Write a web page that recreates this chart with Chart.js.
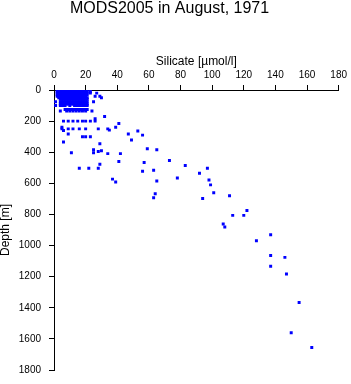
<!DOCTYPE html>
<html>
<head>
<meta charset="utf-8">
<script src="https://cdn.jsdelivr.net/npm/chart.js@4"></script>
<style>
  body { margin: 0; background: #fff; }
  #wrap { width: 351px; height: 384px; }
</style>
</head>
<body>
<div id="wrap"><canvas id="chart" width="351" height="384"></canvas></div>
<script>
// upper layer: many casts crowd together, so one row of silicate values per standard depth
const upperDepth = [0, 10, 20, 30, 40, 50, 60, 75, 90, 100, 125, 135];
const upperSilicate = [
  [2, 3, 4, 5, 6, 7, 8, 9, 10, 11, 12, 13, 14, 15, 16, 17, 18, 19, 20, 21],
  [2, 3, 4, 5, 6, 7, 8, 9, 10, 11, 12, 13, 14, 15, 16, 17, 18, 19, 20, 21, 23],
  [2, 3, 4, 5, 6, 7, 8, 9, 10, 11, 12, 13, 14, 15, 16, 17, 18, 19, 20, 21, 23, 27],
  [2, 3, 4, 5, 6, 7, 8, 9, 10, 11, 12, 13, 14, 15, 16, 17, 18, 19, 20, 21],
  [2, 3, 4, 5, 6, 7, 8, 9, 10, 11, 12, 13, 14, 15, 16, 17, 18, 19, 20, 26, 29],
  [3, 4, 5, 6, 7, 8, 9, 10, 11, 12, 13, 14, 15, 16, 17, 18, 19, 20, 21, 30],
  [4, 5, 6, 7, 8, 9, 10, 11, 12, 13, 14, 15, 16, 17, 18, 19, 20, 21],
  [1, 4, 5, 6, 7, 8, 9, 10, 11, 12, 13, 14, 15, 16, 17, 18, 19, 20, 21, 25],
  [4, 5, 6, 7, 8, 9, 10, 11, 12, 13, 14, 15, 16, 17, 18, 19, 20, 21],
  [1, 4, 5, 6, 7, 10, 13, 14, 15, 16, 17, 18, 19, 20, 21],
  [7, 8, 9, 10, 11, 12, 13, 14, 15, 16, 17, 18, 19, 20, 21],
  [4, 8, 10, 12, 14, 16, 18, 20, 24]
];

// deeper samples, point by point: silicate [umol/l] and depth [m]
const silicate = [
  32, 26,
  6, 9, 12, 15, 18, 20, 23, 26,
  41, 39, 5, 35, 6,
  5, 9, 12, 16, 20, 28, 34,
  9, 47, 53, 56,
  18, 20, 23,
  6, 29, 49,
  11, 25, 25, 28, 30, 34, 42, 59, 65,
  41, 57, 29, 73, 83,
  16, 22, 28,
  56, 63, 92,
  37, 39,
  65, 78, 97, 98, 99,
  64, 63,
  101, 94, 111,
  122, 120, 113,
  107, 108,
  137, 128,
  137, 146, 137, 147,
  155, 150, 163
];
const depth = [
  170, 185,
  200, 200, 200, 200, 200, 200, 200, 200,
  215, 240, 240, 258, 260,
  250, 250, 250, 250, 250, 250, 250,
  283, 283, 264, 290,
  300, 300, 300,
  334, 346, 321,
  403, 384, 403, 396, 390, 409, 409, 378, 384,
  460, 466, 478, 453, 485,
  503, 503, 503,
  522, 516, 535,
  573, 592,
  585, 566, 503, 579, 610,
  667, 692,
  661, 698, 680,
  774, 806, 806,
  862, 881,
  931, 969,
  1064, 1076, 1133, 1183,
  1366, 1561, 1655
];
const xTicks = [0, 20, 40, 60, 80, 100, 120, 140, 160, 180];
const yTicks = [0, 200, 400, 600, 800, 1000, 1200, 1400, 1600, 1800];

const points = [];
upperDepth.forEach((d, r) => {
  upperSilicate[r].forEach(v => points.push({ x: v, y: d }));
});
silicate.forEach((v, i) => points.push({ x: v, y: depth[i] }));

const family = '"Liberation Sans Narrow", "Liberation Sans", Arial, sans-serif';

new Chart(document.getElementById('chart'), {
  type: 'scatter',
  data: {
    datasets: [{
      data: points,
      pointStyle: 'rect',
      pointRadius: 2.1,
      pointHoverRadius: 2.1,
      borderWidth: 0,
      backgroundColor: '#0000ff',
      borderColor: '#0000ff'
    }]
  },
  options: {
    responsive: false,
    animation: false,
    events: [],
    layout: { padding: { left: 0, right: 12, top: 0, bottom: 8 } },
    plugins: {
      legend: { display: false },
      tooltip: { enabled: false },
      title: {
        display: true,
        text: 'MODS2005 in August, 1971',
        color: '#000',
        font: { family: '"Liberation Sans", Arial, sans-serif', size: 16, weight: 'normal', lineHeight: 1 },
        padding: { top: 1, bottom: 0 }
      }
    },
    scales: {
      x: {
        type: 'linear',
        position: 'top',
        min: 0,
        max: 180,
        afterBuildTicks: s => { s.ticks = xTicks.map(v => ({ value: v })); },
        afterFit: s => { s.height = 73; },
        ticks: { color: '#000', padding: 4, maxRotation: 0, font: { family: family, size: 10 }, callback: v => String(v) },
        grid: { drawOnChartArea: false, drawTicks: true, tickLength: 5, color: '#000' },
        border: { display: true, color: '#000', width: 1 },
        title: {
          display: true,
          text: 'Silicate [µmol/l]',
          color: '#000',
          font: { family: '"Liberation Sans", Arial, sans-serif', size: 12, lineHeight: 1.2 },
          padding: { top: 37, bottom: 0 }
        }
      },
      y: {
        type: 'linear',
        position: 'left',
        reverse: true,
        min: 0,
        max: 1800,
        afterBuildTicks: s => { s.ticks = yTicks.map(v => ({ value: v })); },
        afterFit: s => { s.width = 54; },
        ticks: { color: '#000', padding: 8, font: { family: family, size: 10 }, callback: v => String(v) },
        grid: { drawOnChartArea: false, drawTicks: true, tickLength: 5, color: '#000' },
        border: { display: true, color: '#000', width: 1 },
        title: {
          display: true,
          text: 'Depth [m]',
          color: '#000',
          font: { family: '"Liberation Sans", Arial, sans-serif', size: 12, lineHeight: 1 },
          padding: { top: 0, bottom: 0 }
        }
      }
    }
  }
});
</script>
</body>
</html>
